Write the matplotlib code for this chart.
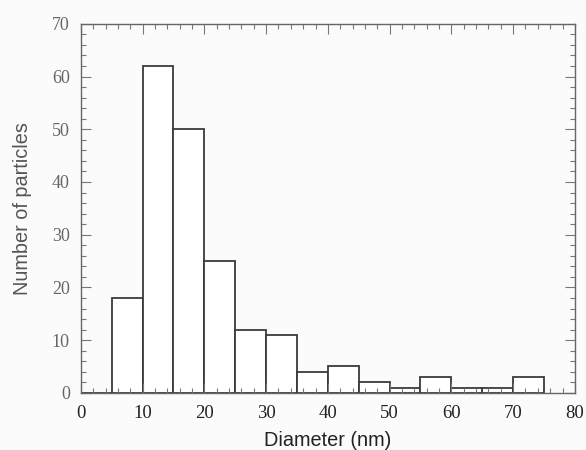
import numpy as np
import matplotlib
matplotlib.use('Agg')
import matplotlib.pyplot as plt
from matplotlib.ticker import MultipleLocator

# Histogram bins (nm) and particle counts
bin_edges = [0, 5, 10, 15, 20, 25, 30, 35, 40, 45, 50, 55, 60, 65, 70, 75]
counts = [0, 18, 62, 50, 25, 12, 11, 4, 5, 2, 1, 3, 1, 1, 3]

x_ticks = [0, 10, 20, 30, 40, 50, 60, 70, 80]
y_ticks = [0, 10, 20, 30, 40, 50, 60, 70]

fig = plt.figure(figsize=(5.86, 4.5), dpi=100, facecolor='#fbfbfb')
ax = fig.add_axes([0.138, 0.127, 0.843, 0.82])
ax.set_facecolor('#fbfbfb')

ax.bar(bin_edges[:-1], counts, width=5, align='edge', facecolor='white',
       edgecolor='#3a3a3a', linewidth=1.3)

ax.set_xlim(0, 80)
ax.set_ylim(0, 70)
ax.set_xticks(x_ticks)
ax.set_yticks(y_ticks)
ax.xaxis.set_minor_locator(MultipleLocator(2))
ax.yaxis.set_minor_locator(MultipleLocator(2))

ax.tick_params(which='both', direction='in', top=True, right=True,
               color='#777777', width=0.8)
ax.tick_params(which='major', length=7)
ax.tick_params(which='minor', length=3.5)
ax.tick_params(axis='x', labelsize=13.5, labelcolor='#222222', pad=9)
ax.tick_params(axis='y', labelsize=13, labelcolor='#666666', pad=8)
for lab in ax.get_xticklabels() + ax.get_yticklabels():
    lab.set_family('Liberation Serif')

for side in ['left', 'bottom', 'right', 'top']:
    ax.spines[side].set_color('#666666')
    ax.spines[side].set_linewidth(1.0)

ax.set_xlabel('Diameter (nm)', family='Liberation Sans', fontsize=14.3,
              color='#222222', labelpad=6)
ax.set_ylabel('Number of particles', family='Liberation Sans', fontsize=14.3,
              color='#555555', labelpad=14)

plt.savefig('out.png', dpi=100, facecolor=fig.get_facecolor())
